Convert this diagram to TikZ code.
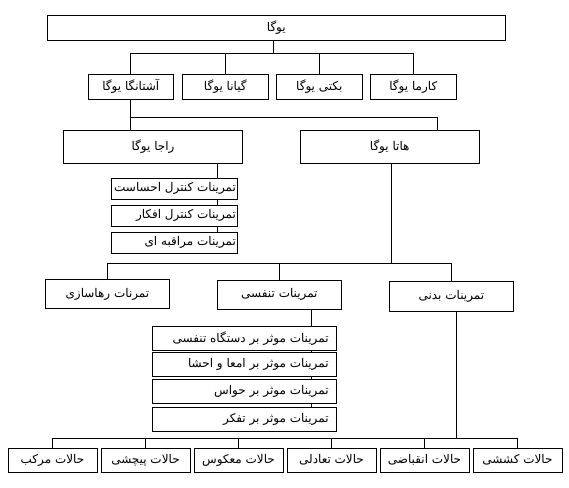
\documentclass[tikz,border=0pt]{standalone}
\usepackage{fontspec}
\newfontfamily\farsifont[Script=Arabic]{DejaVu Sans}
\TeXXeTstate=1
\definecolor{ChartInk}{gray}{0.0}
\tikzset{
    chart/diagram/.style={
        x=1pt, y=-1pt,
        line width=0.8pt,
        draw=ChartInk,
        font=\fontsize{12}{14}\selectfont\farsifont,
        every node/.style={inner sep=0pt, outer sep=0pt}
    },
    chart/box/.style={draw=ChartInk, line width=0.8pt, align=center},
    chart/item/.style={draw=ChartInk, line width=0.8pt},
    chart/link/.style={draw=ChartInk, line width=0.8pt}
}
\begin{document}
\begin{tikzpicture}[chart/diagram]
    \useasboundingbox (0,0) rectangle (569,487);
    % top
    \node[chart/box, minimum width=458pt, minimum height=25pt] (yoga) at (276.3,27.7) {\beginR یوگا\endR};
    \node[chart/box, minimum width=85pt, minimum height=25pt] (ashtanga) at (130.8,86.7) {\beginR آشتانگا یوگا\endR};
    \node[chart/box, minimum width=86pt, minimum height=25pt] (gyana) at (225.3,86.7) {\beginR گیانا یوگا\endR};
    \node[chart/box, minimum width=86pt, minimum height=25pt] (bakti) at (319.3,86.7) {\beginR بکتی یوگا\endR};
    \node[chart/box, minimum width=86pt, minimum height=25pt] (karma) at (413.3,86.7) {\beginR کارما یوگا\endR};
    \node[chart/box, minimum width=179pt, minimum height=33pt] (raja) at (153,146.7) {\beginR راجا یوگا\endR};
    \node[chart/box, minimum width=179pt, minimum height=33pt] (hatha) at (389.7,146.7) {\beginR هاتا یوگا\endR};
    % raja yoga
    \node[chart/item, minimum width=126pt, minimum height=21pt] (raja1) at (174.4,188.8) {\makebox[123pt][r]{\beginR تمرینات کنترل احساست\endR}};
    \node[chart/item, minimum width=126pt, minimum height=21pt] (raja2) at (174.4,215.5) {\makebox[123pt][r]{\beginR تمرینات کنترل افکار\endR}};
    \node[chart/item, minimum width=126pt, minimum height=21pt] (raja3) at (174.4,242.7) {\makebox[123pt][r]{\beginR تمرینات مراقبه ای\endR}};
    % hatha yoga
    \node[chart/box, minimum width=124pt, minimum height=29pt] (raha) at (107.4,294) {\beginR تمرنات رهاسازی\endR};
    \node[chart/box, minimum width=124pt, minimum height=29pt] (tanaf) at (279.4,294.5) {\beginR تمرینات تنفسی\endR};
    \node[chart/box, minimum width=124pt, minimum height=30pt] (badani) at (451.4,296) {\beginR تمرینات بدنی\endR};
    \node[chart/item, minimum width=184pt, minimum height=24pt] (tanaf1) at (244.6,338.4) {\makebox[168pt][r]{\beginR تمرینات موثر بر دستگاه تنفسی\endR}};
    \node[chart/item, minimum width=184pt, minimum height=24pt] (tanaf2) at (244.6,364.7) {\makebox[168pt][r]{\beginR تمرینات موثر بر امعا و احشا\endR}};
    \node[chart/item, minimum width=184pt, minimum height=24pt] (tanaf3) at (244.6,391.7) {\makebox[168pt][r]{\beginR تمرینات موثر بر حواس\endR}};
    \node[chart/item, minimum width=184pt, minimum height=24pt] (tanaf4) at (244.6,419.2) {\makebox[168pt][r]{\beginR تمرینات موثر بر تفکر\endR}};
    % body postures
    \node[chart/box, minimum width=89pt, minimum height=24pt] (markab) at (52.5,460) {\beginR حالات مرکب\endR};
    \node[chart/box, minimum width=89pt, minimum height=24pt] (pichshi) at (145.5,460) {\beginR حالات پیچشی\endR};
    \node[chart/box, minimum width=89pt, minimum height=24pt] (makus) at (238.5,460) {\beginR حالات معکوس\endR};
    \node[chart/box, minimum width=89pt, minimum height=24pt] (taadoli) at (331.5,460) {\beginR حالات تعادلی\endR};
    \node[chart/box, minimum width=89pt, minimum height=24pt] (enghebazi) at (424.5,460) {\beginR حالات انقباضی\endR};
    \node[chart/box, minimum width=89pt, minimum height=24pt] (koshshi) at (517.5,460) {\beginR حالات کششی\endR};
    % connectors
    \coordinate (busA) at (273,53.3);
    \coordinate (busB) at (437,117.3);
    \coordinate (rajaStem) at (217.7,180);
    \coordinate (busC) at (391,263.3);
    \coordinate (tanafStem) at (311.7,330);
    \coordinate (busD) at (456.5,438.5);
    \draw[chart/link] (yoga.south -| busA) -- (busA);
    \draw[chart/link] (ashtanga.north) |- (busA) -| (karma.north);
    \foreach \n in {gyana,bakti}
        \draw[chart/link] (\n.north) -- (\n.north |- busA);
    \draw[chart/link] (ashtanga.south) -- (raja.north -| ashtanga.south);
    \draw[chart/link] (ashtanga.south |- busB) -- (busB) -- (hatha.north -| busB);
    \draw[chart/link] (raja.south -| rajaStem) -- (raja1.north -| rajaStem);
    \draw[chart/link] (raja1.south -| rajaStem) -- (raja2.north -| rajaStem);
    \draw[chart/link] (raja2.south -| rajaStem) -- (raja3.north -| rajaStem);
    \draw[chart/link] (hatha.south -| busC) -- (busC);
    \draw[chart/link] (raha.north) |- (busC) -| (badani.north);
    \draw[chart/link] (tanaf.north) -- (tanaf.north |- busC);
    \draw[chart/link] (tanaf.south -| tanafStem) -- (tanaf1.north -| tanafStem);
    \draw[chart/link] (tanaf1.south -| tanafStem) -- (tanaf2.north -| tanafStem);
    \draw[chart/link] (tanaf2.south -| tanafStem) -- (tanaf3.north -| tanafStem);
    \draw[chart/link] (tanaf3.south -| tanafStem) -- (tanaf4.north -| tanafStem);
    \draw[chart/link] (badani.south -| busD) -- (busD);
    \draw[chart/link] (markab.north) |- (busD) -| (koshshi.north);
    \foreach \n in {pichshi,makus,taadoli,enghebazi}
        \draw[chart/link] (\n.north) -- (\n.north |- busD);
\end{tikzpicture}
\end{document}
